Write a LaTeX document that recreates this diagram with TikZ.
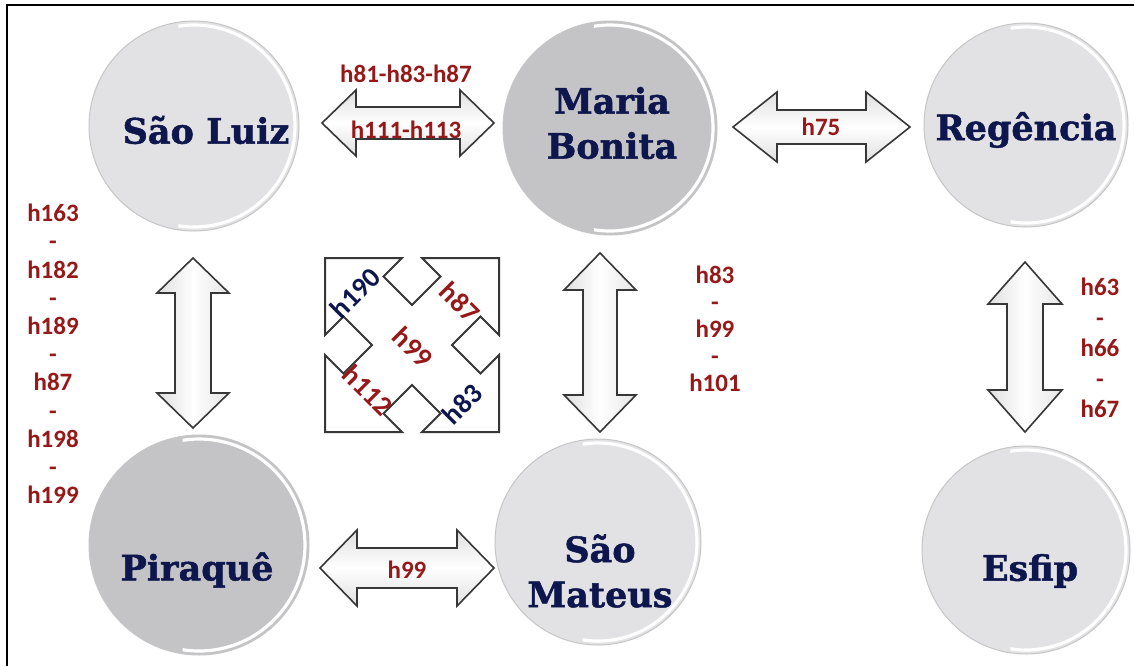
\documentclass[tikz,border=0pt]{standalone}
\usepackage{fontspec}
\newfontfamily\namefont{DejaVu Serif Bold}[FakeBold=1.4]
\newfontfamily\labfont{Carlito}
\usetikzlibrary{calc}
\definecolor{navy}{RGB}{14,22,78}
\definecolor{lred}{RGB}{150,24,24}
\definecolor{lightc}{RGB}{226,226,228}
\definecolor{darkc}{RGB}{196,196,198}
\definecolor{arrowline}{RGB}{55,55,55}
\tikzset{
  ball/.style={circle, inner sep=0pt, draw=gray!45, line width=0.5pt},
  cname/.style={text=navy, font=\namefont\fontsize{17.5}{22.5}\selectfont, align=center, inner sep=0pt},
  lab/.style={text=lred, font=\labfont\bfseries\fontsize{12.5}{15}\selectfont, inner sep=1pt},
  qlab/.style={font=\labfont\bfseries\fontsize{14}{16}\selectfont, inner sep=0pt},
  blockh/.style={draw=arrowline, line width=0.8pt, line join=miter, top color=gray!25, bottom color=gray!25, middle color=white},
  blockv/.style={draw=arrowline, line width=0.8pt, line join=miter, left color=gray!25, right color=gray!20, middle color=white},
  quad/.style={draw=arrowline, line width=1pt, line join=miter, fill=white},
  frame/.style={black, line width=1.4pt}
}
% horizontal double block arrow: xl, xr, y, head length, shaft half, head half
\newcommand{\HArrow}[6]{%
  \draw[blockh] (#1,#3) -- ({#1+#4},{#3-#6}) -- ({#1+#4},{#3-#5}) -- ({#2-#4},{#3-#5}) -- ({#2-#4},{#3-#6}) -- (#2,#3) -- ({#2-#4},{#3+#6}) -- ({#2-#4},{#3+#5}) -- ({#1+#4},{#3+#5}) -- ({#1+#4},{#3+#6}) -- cycle;}
% vertical double block arrow: yt, yb, x, head length, shaft half, head half
\newcommand{\VArrow}[6]{%
  \draw[blockv] (#3,#1) -- ({#3+#6},{#1+#4}) -- ({#3+#5},{#1+#4}) -- ({#3+#5},{#2-#4}) -- ({#3+#6},{#2-#4}) -- (#3,#2) -- ({#3-#6},{#2-#4}) -- ({#3-#5},{#2-#4}) -- ({#3-#5},{#1+#4}) -- ({#3-#6},{#1+#4}) -- cycle;}
% ball: name, x, y, radius px, fill
\newcommand{\Ball}[5]{%
  \node[ball, minimum size={#4*1pt}, fill=#5] (#1) at (#2,#3) {};
  \begin{scope}
    \clip ({#2-0.15*#4},{#3-#4-2}) rectangle ({#2+#4+2},{#3+#4+2});
    \draw[white, line width=1.6pt] (#1.center) circle [radius={#4*0.5pt-2pt}];
  \end{scope}}
\begin{document}
\begin{tikzpicture}[x=0.5pt,y=-0.5pt]
\useasboundingbox (0,0) rectangle (1134,666);
\fill[white] (0,0) rectangle (1134,666);
\draw[frame] (7,666) -- (7,5) -- (1134,5);

% circles
\Ball{slc}{194}{126}{105}{lightc}
\Ball{mbc}{610}{128}{107}{darkc}
\Ball{rgc}{1026}{125}{102}{lightc}
\Ball{pqc}{199}{545}{110}{darkc}
\Ball{smc}{598}{542}{103}{lightc}
\Ball{esc}{1026}{550}{104}{lightc}

\node[cname] (sl) at (206,130) {São Luiz};
\node[cname] (mb) at (612,123) {Maria\\Bonita};
\node[cname] (rg) at (1026,130) {Regência};
\node[cname] (pq) at (197,570) {Piraquê};
\node[cname] (sm) at (600,571) {São\\Mateus};
\node[cname] (es) at (1030,571) {Esfip};

% block arrows
\HArrow{322}{494}{123}{34}{16}{33}
\HArrow{733}{910}{127}{44}{17}{35}
\HArrow{320}{494}{568}{37}{20}{38}
\VArrow{258}{428}{193}{35}{18}{36}
\VArrow{253}{432}{600}{37}{17}{36}
\VArrow{262}{432}{1025}{42}{18}{37}

% quad arrow
\draw[quad, shift={(412,345)}] (-87,-87) -- (-10,-87) -- (-28.5,-68.5) -- (0,-40) -- (28.5,-68.5) -- (10,-87) -- (87,-87)
  -- (87,-10) -- (68.5,-28.5) -- (40,0) -- (68.5,28.5) -- (87,10) -- (87,87)
  -- (10,87) -- (28.5,68.5) -- (0,40) -- (-28.5,68.5) -- (-10,87) -- (-87,87)
  -- (-87,10) -- (-68.5,28.5) -- (-40,0) -- (-68.5,-28.5) -- (-87,-10) -- cycle;

% labels
\node[lab] (l1) at (406,74) {h81-h83-h87};
\node[lab] (l2) at (406,130) {h111-h113};
\node[lab] (l3) at (821,127) {h75};
\node[lab] (l4) at (407,570) {h99};
\node[lab, align=center, font=\labfont\bfseries\fontsize{12.5}{14.1}\selectfont] (l5) at (53,354) {h163\\-\\h182\\-\\h189\\-\\h87\\-\\h198\\-\\h199};
\node[lab, align=center, font=\labfont\bfseries\fontsize{12.5}{13.5}\selectfont] (l6) at (715,329) {h83\\-\\h99\\-\\h101};
\node[lab, align=center, font=\labfont\bfseries\fontsize{12.5}{15.3}\selectfont] (l7) at (1100,348) {h63\\-\\h66\\-\\h67};

\node[qlab, text=navy, rotate=45] (q1) at (355,293) {h190};
\node[qlab, text=lred, rotate=-45] (q2) at (460,302) {h87};
\node[qlab, text=lred, rotate=-45] (q3) at (413,347) {h99};
\node[qlab, text=lred, rotate=-45] (q4) at (368,390) {h112};
\node[qlab, text=navy, rotate=45] (q5) at (462,404) {h83};
\end{tikzpicture}
\end{document}
